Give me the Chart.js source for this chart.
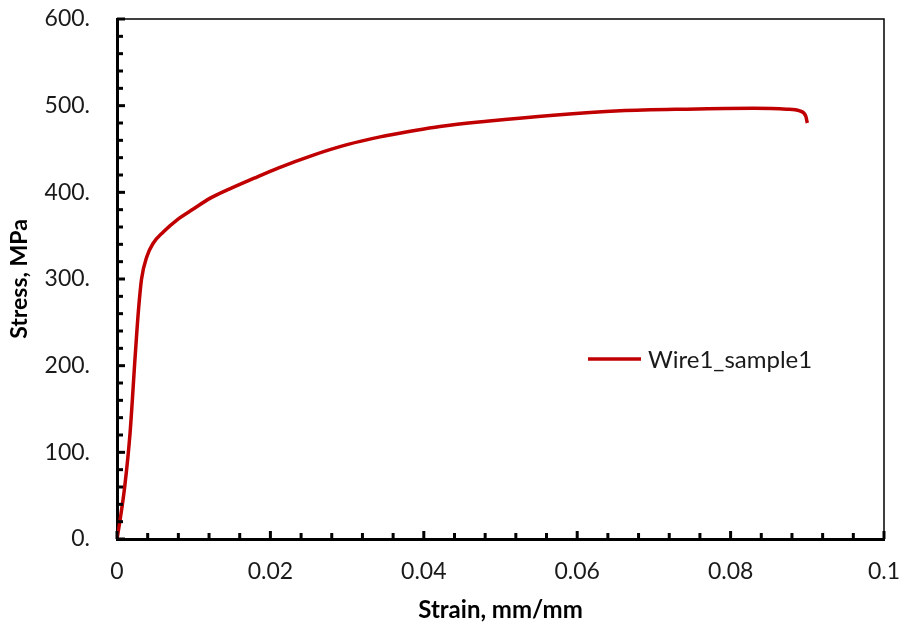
<!DOCTYPE html>
<html>
<head>
<meta charset="utf-8">
<script src="https://cdn.jsdelivr.net/npm/chart.js@4/dist/chart.umd.min.js"></script>
<style>
  body { margin: 0; background: #fff; }
</style>
</head>
<body>
<canvas id="grafico" width="905" height="630"></canvas>
<script>
const strain = [0, 0.0004, 0.001, 0.0017, 0.0024, 0.0028, 0.0032, 0.0039, 0.0047, 0.0060,
  0.0078, 0.0100, 0.0121, 0.0147, 0.0178, 0.0210, 0.0256, 0.0300, 0.0343, 0.0386,
  0.0421, 0.0482, 0.0569, 0.0656, 0.0743, 0.0830, 0.0873, 0.0890, 0.0898, 0.0900];
const stress = [0, 22, 60, 122, 215, 264, 300, 326, 341, 354,
  368, 381, 393, 404, 416, 428, 443, 455, 464, 471,
  476, 482, 489, 494, 496, 497, 496, 494, 488, 480];
const serieNome = 'Wire1_sample1';
const xTickLabels = ['0', '0.02', '0.04', '0.06', '0.08', '0.1'];
const yTickLabels = ['0.', '100.', '200.', '300.', '400.', '500.', '600.'];

const fonte = 'Lato, "Noto Sans", sans-serif';
const corLinha = '#C00000';

// tracinhos pra dentro do grafico + moldura fina em cima e na direita
const ticksInternos = {
  id: 'ticksInternos',
  afterDraw(chart) {
    const ctx = chart.ctx;
    const area = chart.chartArea;
    const sx = chart.scales.x;
    const sy = chart.scales.y;
    ctx.save();
    ctx.strokeStyle = '#000';
    ctx.lineWidth = 1.5;
    ctx.beginPath();
    ctx.moveTo(area.left, area.top);
    ctx.lineTo(area.right, area.top);
    ctx.lineTo(area.right, area.bottom);
    ctx.stroke();

    ctx.lineWidth = 3;
    for (let i = 0; i <= 30; i++) {
      const py = sy.getPixelForValue(i * 20);
      const len = (i % 5 === 0) ? 8 : 6;
      ctx.beginPath();
      ctx.moveTo(area.left, py);
      ctx.lineTo(area.left + len, py);
      ctx.stroke();
    }
    for (let i = 0; i <= 25; i++) {
      const px = sx.getPixelForValue(i * 0.004);
      const len = (i % 5 === 0) ? 8 : 6;
      ctx.beginPath();
      ctx.moveTo(px, area.bottom);
      ctx.lineTo(px, area.bottom - len);
      ctx.stroke();
    }
    ctx.restore();
  }
};

// legenda dentro da area do grafico
const legendaInterna = {
  id: 'legendaInterna',
  afterDraw(chart) {
    const ctx = chart.ctx;
    const ds = chart.data.datasets[0];
    ctx.save();
    ctx.strokeStyle = ds.borderColor;
    ctx.lineWidth = 3.5;
    ctx.beginPath();
    ctx.moveTo(588, 359);
    ctx.lineTo(641, 359);
    ctx.stroke();
    ctx.fillStyle = '#1a1a1a';
    ctx.font = '24px ' + fonte;
    ctx.textBaseline = 'middle';
    ctx.fillText(ds.label, 648, 360);
    ctx.restore();
  }
};

// tira o espaco extra que o chart.js reserva pros rotulos das pontas
function semPadding(scale) {
  scale.paddingTop = 0;
  scale.paddingBottom = 0;
  scale.paddingLeft = 0;
  scale.paddingRight = 0;
}

const ctxGrafico = document.getElementById('grafico').getContext('2d');

let myChart = new Chart(ctxGrafico, {
  type: 'line',
  data: {
    datasets: [{
      label: serieNome,
      data: strain.map((s, i) => ({ x: s, y: stress[i] })),
      borderColor: corLinha,
      borderWidth: 3.5,
      pointRadius: 0,
      fill: false,
      cubicInterpolationMode: 'monotone'
    }]
  },
  options: {
    responsive: false,
    devicePixelRatio: 1,
    animation: false,
    layout: { padding: { top: 19, right: 21, left: 0, bottom: 0 } },
    plugins: {
      legend: { display: false },
      tooltip: { enabled: false }
    },
    scales: {
      x: {
        type: 'linear',
        min: 0,
        max: 0.1,
        afterFit: (scale) => { scale.height = 91; semPadding(scale); },
        afterBuildTicks: (scale) => {
          scale.ticks = xTickLabels.map((t) => ({ value: parseFloat(t) }));
        },
        border: { display: true, color: '#000', width: 3 },
        grid: { display: false, drawTicks: false },
        ticks: {
          padding: 19,
          color: '#1a1a1a',
          font: { family: fonte, size: 23 },
          maxRotation: 0,
          callback: (v, i) => xTickLabels[i]
        },
        title: {
          display: true,
          text: 'Strain, mm/mm',
          color: '#000',
          font: { family: fonte, size: 24, weight: 'bold' },
          padding: { top: 0, bottom: 5 }
        }
      },
      y: {
        min: 0,
        max: 600,
        afterFit: (scale) => { scale.width = 117; semPadding(scale); },
        afterBuildTicks: (scale) => {
          scale.ticks = yTickLabels.map((t) => ({ value: parseFloat(t) }));
        },
        border: { display: true, color: '#000', width: 3 },
        grid: { display: false, drawTicks: false },
        ticks: {
          padding: 27,
          color: '#1a1a1a',
          font: { family: fonte, size: 23 },
          callback: (v, i) => yTickLabels[i]
        },
        title: {
          display: true,
          text: 'Stress, MPa',
          color: '#000',
          font: { family: fonte, size: 23, weight: 'bold' },
          padding: { top: 6, bottom: 0 }
        }
      }
    }
  },
  plugins: [ticksInternos, legendaInterna]
});
</script>
</body>
</html>
